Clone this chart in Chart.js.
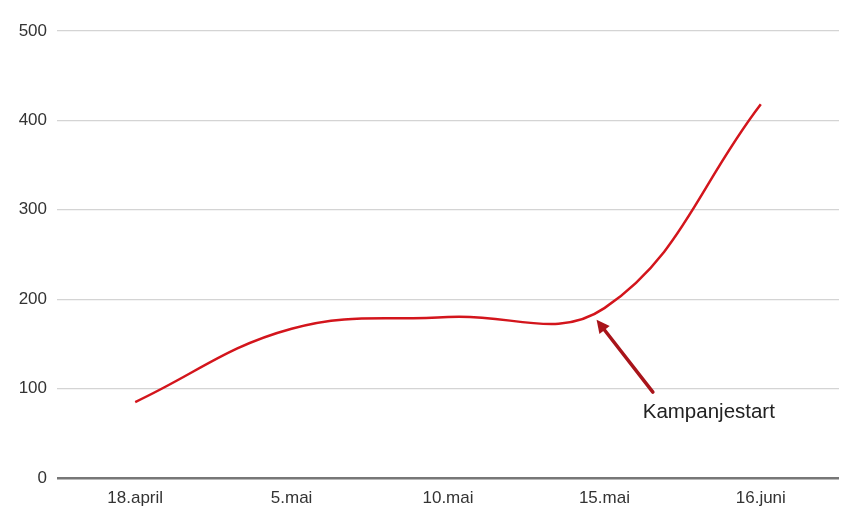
<!DOCTYPE html>
<html>
<head>
<meta charset="utf-8">
<script src="https://cdn.jsdelivr.net/npm/chart.js@4.4.0/dist/chart.umd.min.js"></script>
<style>
  html, body { margin: 0; padding: 0; background: #fff; }
  #wrap { width: 860px; height: 524px; }
</style>
</head>
<body>
<div id="wrap"><canvas id="c" width="860" height="524"></canvas></div>
<script>
const categories = ['18.april', '5.mai', '10.mai', '15.mai', '16.juni'];
const visitors = [85, 167, 180, 190, 418];
const yTicks = [0, 100, 200, 300, 400, 500];
const annotationText = 'Kampanjestart';
// annotation positions in data space: [category index, value]
const arrowTail = [3.31, 96];
const arrowTip = [2.95, 177];
const labelAt = [3.245, 73];

function xAt(scale, idx) {
  const i0 = Math.floor(idx), f = idx - i0;
  const p0 = scale.getPixelForValue(i0);
  const p1 = scale.getPixelForValue(i0 + 1);
  return p0 + (p1 - p0) * f;
}

const annotationPlugin = {
  id: 'arrowNote',
  afterDatasetsDraw(chart) {
    const ctx = chart.ctx, xs = chart.scales.x, ys = chart.scales.y;
    const x1 = xAt(xs, arrowTail[0]), y1 = ys.getPixelForValue(arrowTail[1]);
    const x2 = xAt(xs, arrowTip[0]), y2 = ys.getPixelForValue(arrowTip[1]);
    const ang = Math.atan2(y2 - y1, x2 - x1);
    const head = 13, hw = 6.5;
    ctx.save();
    ctx.strokeStyle = '#a8141a';
    ctx.fillStyle = '#a8141a';
    ctx.lineWidth = 3.5;
    ctx.lineCap = 'round';
    ctx.beginPath();
    ctx.moveTo(x1, y1);
    ctx.lineTo(x2 - Math.cos(ang) * head * 0.8, y2 - Math.sin(ang) * head * 0.8);
    ctx.stroke();
    const bx = x2 - Math.cos(ang) * head, by = y2 - Math.sin(ang) * head;
    ctx.beginPath();
    ctx.moveTo(x2, y2);
    ctx.lineTo(bx + Math.sin(ang) * hw, by - Math.cos(ang) * hw);
    ctx.lineTo(bx - Math.sin(ang) * hw, by + Math.cos(ang) * hw);
    ctx.closePath();
    ctx.fill();
    ctx.fillStyle = '#222';
    ctx.font = '20.5px "Liberation Sans", Arial, sans-serif';
    ctx.textAlign = 'left';
    ctx.textBaseline = 'middle';
    ctx.fillText(annotationText, xAt(xs, labelAt[0]), ys.getPixelForValue(labelAt[1]));
    ctx.restore();
  }
};

new Chart(document.getElementById('c'), {
  type: 'line',
  data: {
    labels: categories,
    datasets: [{
      data: visitors,
      borderColor: '#d3151c',
      borderWidth: 2.5,
      pointRadius: 0,
      tension: 0.4,
      fill: false
    }]
  },
  options: {
    responsive: false,
    animation: false,
    layout: { padding: { top: 31, right: 21, bottom: 0, left: 0 } },
    plugins: { legend: { display: false }, tooltip: { enabled: false } },
    scales: {
      x: {
        offset: true,
        grid: { display: false, drawTicks: false },
        border: { display: false },
        ticks: { color: '#333', font: { family: '"Liberation Sans", Arial, sans-serif', size: 17 }, padding: 10, maxRotation: 0 },
        afterFit(s) { s.height = 46; }
      },
      y: {
        min: 0, max: 500,
        afterBuildTicks(s) { s.ticks = yTicks.map(v => ({ value: v })); },
        grid: {
          color: ctx => ctx.tick && ctx.tick.value === 0 ? '#777' : '#d4d4d4',
          lineWidth: ctx => ctx.tick && ctx.tick.value === 0 ? 2.5 : 1.2,
          drawTicks: false
        },
        border: { display: false },
        ticks: { color: '#333', font: { family: '"Liberation Sans", Arial, sans-serif', size: 17 }, padding: 10 },
        afterFit(s) { s.width = 57; }
      }
    }
  },
  plugins: [annotationPlugin]
});
</script>
</body>
</html>
